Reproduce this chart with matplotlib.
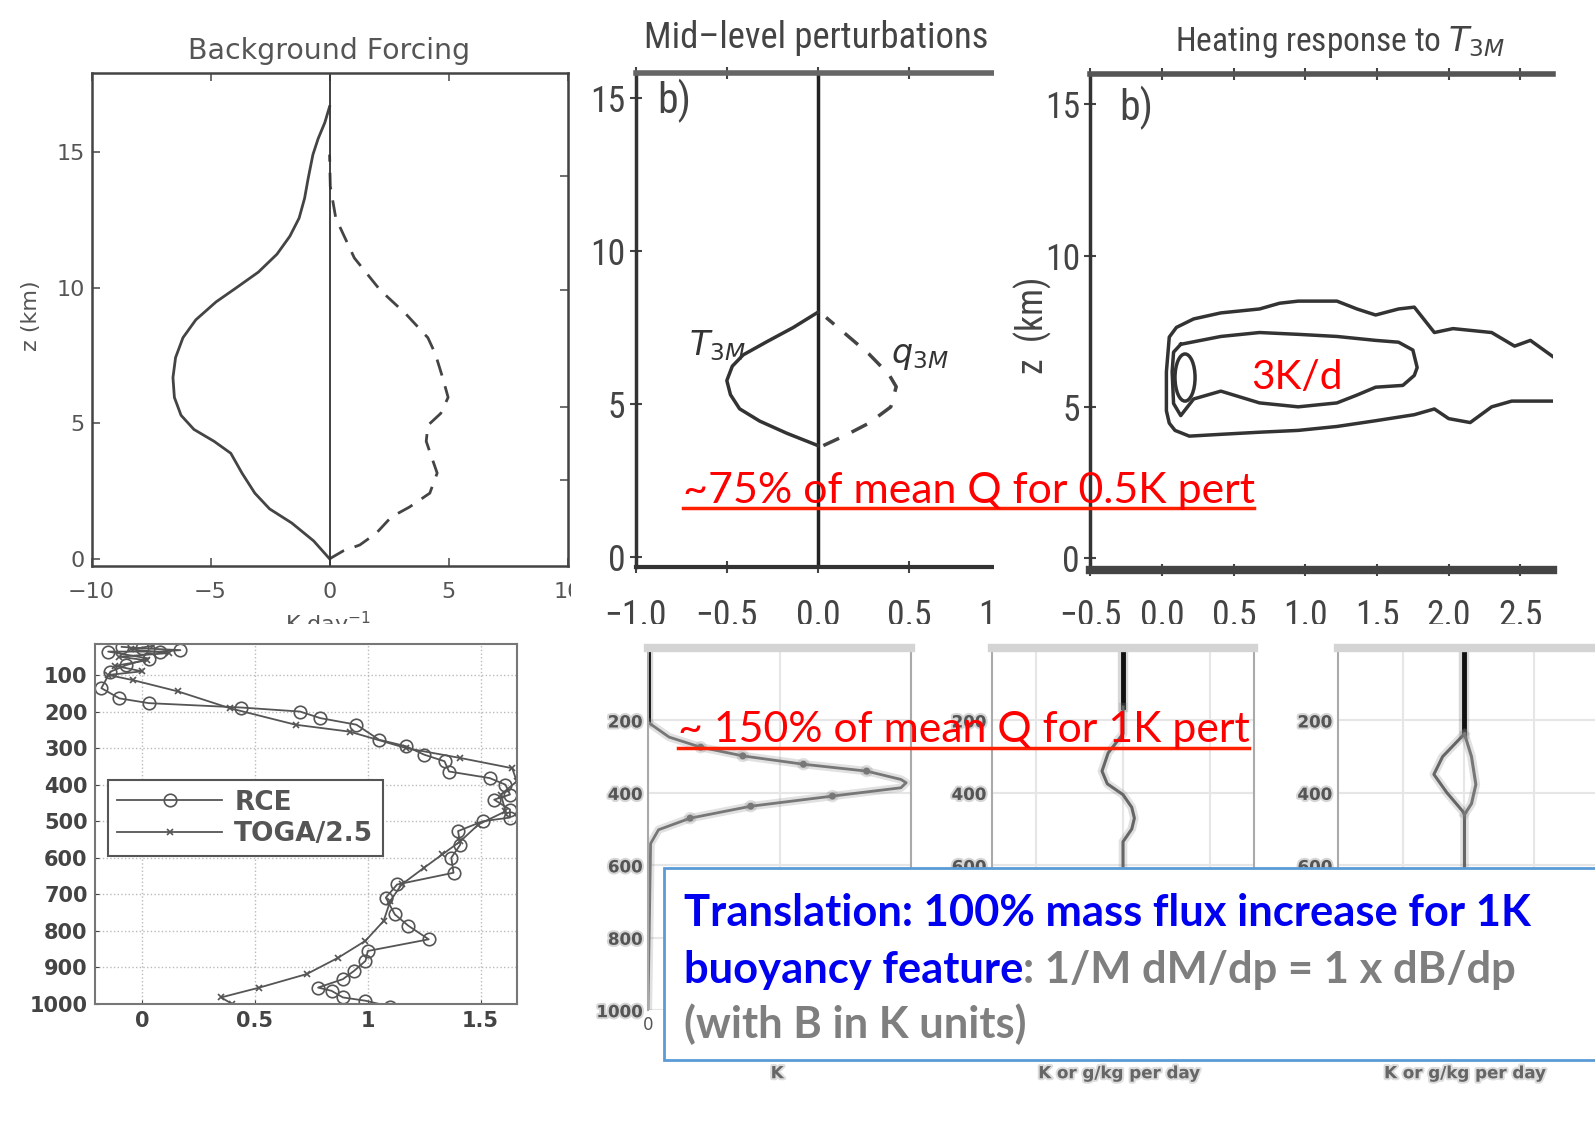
import matplotlib
matplotlib.use("Agg")
import matplotlib.pyplot as plt
import matplotlib.patheffects as pe
from matplotlib import font_manager as fm
from matplotlib.patches import Rectangle, Ellipse
from matplotlib.lines import Line2D

# ---------------------------------------------------------------- data
# Background forcing profiles (K/day vs height km)
bg_z_solid = [0, 0.66, 1.32, 1.84, 2.42, 3.16, 3.89, 4.33, 4.77, 5.29, 5.95, 6.68, 7.42, 8.15,
              8.81, 9.47, 9.99, 10.57, 11.23, 11.89, 12.56, 13.29, 14.02, 14.9, 15.49, 16.08,
              16.67]
bg_solid = [0, -0.67, -1.59, -2.52, -3.14, -3.68, -4.15, -4.85, -5.70, -6.24, -6.52, -6.58,
            -6.47, -6.16, -5.62, -4.77, -3.92, -2.99, -2.21, -1.67, -1.28, -1.05, -0.90, -0.70,
            -0.48, -0.2, 0]
bg_z_dash = [0, 0.29, 0.51, 0.95, 1.54, 1.91, 2.42, 3.16, 3.74, 4.33, 4.92, 5.36, 5.95, 6.68,
             7.56, 8.15, 9.03, 9.91, 11.09, 12.56, 13.73, 14.9]
bg_dash = [0, 0.57, 1.27, 1.97, 2.59, 3.36, 4.21, 4.52, 4.29, 4.06, 4.13, 4.67, 4.98, 4.75,
           4.44, 4.13, 3.20, 2.12, 1.04, 0.26, 0.03, 0]
bg_right_ticks = [2.9, 5.6, 9.9, 14.1]

# Mid-level perturbations
t3m_z = [3.65, 4.05, 4.45, 4.85, 5.31, 5.77, 6.24, 6.61, 7.04, 7.5, 8.0]
t3m_x = [0, -0.17, -0.32, -0.43, -0.48, -0.5, -0.47, -0.41, -0.28, -0.136, 0]
q3m_z = [3.65, 3.98, 4.38, 4.91, 5.57, 5.97, 6.64, 7.3, 7.83]
q3m_x = [0.03, 0.15, 0.28, 0.40, 0.43, 0.39, 0.28, 0.15, 0.045]

# Heating response contours (x: time-like axis, z: km)
outer_x = [2.80, 2.74, 2.57, 2.46, 2.30, 2.03, 1.90, 1.76, 1.65, 1.49, 1.36, 1.22, 0.95, 0.82,
           0.68, 0.41, 0.22, 0.10, 0.05, 0.03, 0.03, 0.05, 0.09, 0.19, 0.41, 0.68, 0.95, 1.22,
           1.49, 1.76, 1.90, 2.00, 2.15, 2.30, 2.44, 2.80]
outer_z = [6.45, 6.61, 7.19, 7.00, 7.45, 7.58, 7.45, 8.29, 8.23, 8.03, 8.23, 8.49, 8.49, 8.42,
           8.23, 8.10, 7.90, 7.62, 7.30, 6.15, 4.86, 4.45, 4.21, 4.02, 4.08, 4.15, 4.21, 4.34,
           4.53, 4.73, 4.92, 4.60, 4.47, 4.99, 5.18, 5.18]
mid_x = [0.13, 0.41, 0.68, 0.95, 1.22, 1.49, 1.65, 1.75, 1.78, 1.76, 1.68, 1.49, 1.36, 1.22,
         0.95, 0.68, 0.41, 0.22, 0.13, 0.08, 0.07, 0.08, 0.13]
mid_z = [7.06, 7.32, 7.45, 7.39, 7.32, 7.19, 7.13, 6.87, 6.29, 6.03, 5.70, 5.64, 5.38, 5.12,
         4.99, 5.12, 5.51, 5.25, 4.70, 5.10, 6.15, 6.80, 7.06]
inner_center = (0.16, 5.96)
inner_size = (0.14, 1.56)

# Convective heating (K/day) vs pressure (hPa)
rce_p = [23, 27, 32, 36, 36, 55, 73, 91, 136, 164, 177, 189, 200, 218, 236, 277, 295, 318, 336,
         364, 382, 400, 427, 441, 468, 490, 500, 527, 564, 600, 641, 673, 709, 755, 786, 823,
         855, 882, 909, 932, 955, 964, 982, 991, 1007]
rce_x = [-0.09, 0.0, 0.17, 0.08, -0.15, 0.03, -0.07, -0.14, -0.18, -0.1, 0.03, 0.44, 0.7, 0.79,
         0.95, 1.05, 1.17, 1.25, 1.34, 1.36, 1.54, 1.61, 1.63, 1.56, 1.63, 1.63, 1.51, 1.4, 1.41,
         1.37, 1.38, 1.13, 1.08, 1.12, 1.18, 1.27, 1.0, 0.99, 0.94, 0.89, 0.78, 0.84, 0.89, 0.99,
         1.1]
toga_p = [20, 30, 40, 50, 60, 75, 90, 100, 114, 145, 191, 236, 255, 300, 327, 355, 391, 427, 473,
          509, 555, 591, 627, 673, 718, 773, 827, 873, 918, 955, 982, 1000]
toga_x = [0.05, -0.05, 0.12, -0.1, 0.02, -0.12, 0.0, -0.15, -0.04, 0.16, 0.39, 0.68, 0.92, 1.17,
          1.41, 1.64, 1.66, 1.59, 1.61, 1.49, 1.41, 1.33, 1.25, 1.15, 1.1, 1.07, 0.99, 0.87, 0.73,
          0.52, 0.35, 0.4]
pressure_ticks = [100, 200, 300, 400, 500, 600, 700, 800, 900, 1000]
heating_ticks = [0, 0.5, 1, 1.5]

# Temperature-perturbation profile (K vs hPa)
k_p = [205, 246, 274, 298, 321, 340, 363, 372, 386, 409, 437, 470, 502, 540, 1000]
k_x = [0, 0.08, 0.2, 0.36, 0.59, 0.83, 0.96, 0.98, 0.96, 0.7, 0.39, 0.16, 0.04, 0.01, 0]
k_marks = [2, 3, 4, 5, 9, 10, 11]
# Heating-response profiles (K or g/kg per day vs hPa)
h1_p = [163, 237, 290, 340, 375, 405, 440, 470, 500, 535, 1000]
h1_x = [0, 0, -0.17, -0.24, -0.18, 0, 0.1, 0.13, 0.1, 0, 0]
h2a_p = [237, 300, 349, 400, 451, 460, 1000]
h2a_x = [0, -0.25, -0.35, -0.2, -0.02, 0, 0]
h2b_p = [237, 300, 377, 430, 460]
h2b_x = [0, 0.08, 0.13, 0.08, 0]
small_p_ticks = [200, 400, 600, 800, 1000]
small_p_labels = ["200", "400", "600", "800", "1000"]

# ---------------------------------------------------------------- layout helpers
W, H = 1568.0, 1102.0
SC = 1595.0 / 1568.0
fig = plt.figure(figsize=(15.95, 11.21), dpi=100)
renderer = fig.canvas.get_renderer()
CAL = ["Lato", "DejaVu Sans"]


def pick_narrow():
    options = [("Liberation Sans Narrow", "normal"), ("Roboto Condensed", "normal"),
               ("DejaVu Sans", "condensed"), ("Noto Sans", "condensed"),
               ("Open Sans", "condensed"), ("Roboto", "condensed")]
    for fam, st in options:
        try:
            path = fm.findfont(fm.FontProperties(family=fam, stretch=st),
                               fallback_to_default=False)
        except Exception:
            continue
        if any(k in path for k in ("Narrow", "Condensed", "Cond")):
            return fam, st
    return "Liberation Sans", "normal"


NFAM, NSTRETCH = pick_narrow()


def narrow(t):
    t.set_family(NFAM)
    t.set_stretch(NSTRETCH)
    return t


def fx(x):
    return x / W


def fy(y):
    return 1 - y / H


def box(x0, y0, x1, y1):
    return [x0 / W, 1 - y1 / H, (x1 - x0) / W, (y1 - y0) / H]


def white(x0, y0, x1, y1, z):
    fig.add_artist(Rectangle((fx(x0), fy(y1)), (x1 - x0) / W, (y1 - y0) / H,
                             transform=fig.transFigure, facecolor="white",
                             edgecolor="none", zorder=z))


def fit(t, width):
    w = t.get_window_extent(renderer).width
    t.set_fontsize(t.get_fontsize() * width * SC / w)
    return t


def hline(x0, x1, y, color, lw, z):
    fig.add_artist(Line2D([fx(x0), fx(x1)], [fy(y), fy(y)], transform=fig.transFigure,
                          color=color, lw=lw, zorder=z))


def soft(lw, color="#888", a=0.25):
    return [pe.Stroke(linewidth=lw + 4, foreground=color, alpha=a), pe.Normal()]


# size of the narrow tick labels: "0.0" about 44 px wide, at most 27 pt
_probe = narrow(fig.text(0, 0, "0.0", fontsize=20))
NSIZE = min(27.0, 20 * 44 * SC / _probe.get_window_extent(renderer).width)
_probe.remove()

# ---------------------------------------------------------------- Background forcing
ax1 = fig.add_axes(box(90, 72, 558, 556), zorder=0)
ax1.plot(bg_solid, bg_z_solid, color="#444", lw=2)
ax1.plot(bg_dash, bg_z_dash, color="#444", lw=2, dashes=(6, 4))
ax1.axvline(0, color="#333", lw=1.3)
ax1.set_xlim(-10, 10)
ax1.set_ylim(-0.25, 17.9)
ax1.set_xticks([-10, -5, 0, 5, 10])
ax1.set_xticklabels(["\u221210", "\u22125", "0", "5", "10"])
ax1.set_yticks([0, 5, 10, 15])
ax1.tick_params(direction="in", length=6, width=1.2, colors="#555", labelsize=16, top=True)
ax1.tick_params(axis="x", pad=12)
ax1.tick_params(axis="y", pad=5)
for s in ax1.spines.values():
    s.set_color("#444")
    s.set_linewidth(1.8)
sec = ax1.secondary_yaxis("right")
sec.set_yticks(bg_right_ticks)
sec.set_yticklabels([])
sec.tick_params(direction="in", length=6, width=1.2, colors="#555")
fit(fig.text(fx(185), fy(58), "Background Forcing", color="#555", fontsize=18,
             va="baseline"), 278)
fig.text(fx(30), fy(310), "z (km)", rotation=90, ha="center", va="center",
         fontsize=16, color="#555")
fig.text(fx(323), fy(599), "K day$^{-1}$", ha="center", va="top", fontsize=16, color="#555")

white(561, 0, 1568, 613, 1)

# ---------------------------------------------------------------- Mid-level perturbations
ax2 = fig.add_axes(box(625, 72, 1001, 557), zorder=2)
ax2.axvline(0, color="#222", lw=2.5)
ax2.plot(t3m_x, t3m_z, color="#333", lw=2.5)
ax2.plot(q3m_x, q3m_z, color="#444", lw=2.5, dashes=(5, 4))
ax2.set_xlim(-1.0, 1.1)
ax2.set_ylim(-0.3, 15.8)
ax2.set_xticks([-1.0, -0.5, 0.0, 0.5, 1.0])
ax2.set_xticklabels(["\u22121.0", "\u22120.5", "0.0", "0.5", "1.0"])
ax2.set_yticks([0, 5, 10, 15])
ax2.tick_params(direction="inout", length=9, width=1.5, colors="#444", labelsize=NSIZE,
                top=True)
ax2.tick_params(axis="x", pad=18)
ax2.tick_params(axis="y", pad=3)
for lab in ax2.get_xticklabels() + ax2.get_yticklabels():
    narrow(lab)
ax2.spines["right"].set_visible(False)
ax2.spines["top"].set_linewidth(4)
ax2.spines["top"].set_color("#666")
ax2.spines["bottom"].set_linewidth(3)
ax2.spines["bottom"].set_color("#333")
ax2.spines["left"].set_linewidth(2.5)
ax2.spines["left"].set_color("#333")
ax2.text(-0.55, 6.9, "$T_{3M}$", fontsize=24, color="#333", ha="center", va="center")
ax2.text(0.56, 6.6, "$q_{3M}$", fontsize=24, color="#333", ha="center", va="center")
narrow(ax2.text(-0.88, 14.9, "b)", fontsize=30, color="#444", va="center"))
fit(narrow(fig.text(fx(633), fy(47), "Mid\u2013level perturbations", color="#444",
                    fontsize=26, va="baseline")), 339)

white(977, 0, 1568, 613, 3)

# ---------------------------------------------------------------- Heating response
ax3 = fig.add_axes(box(1072, 73, 1527, 560), zorder=4)
ax3.plot(outer_x, outer_z, color="#333", lw=2.5)
ax3.plot(mid_x, mid_z, color="#333", lw=2.5)
ax3.add_patch(Ellipse(inner_center, inner_size[0], inner_size[1], fill=False,
                      edgecolor="#333", lw=2.5))
ax3.set_xlim(-0.5, 2.73)
ax3.set_ylim(-0.4, 16.0)
ax3.set_xticks([-0.5, 0.0, 0.5, 1.0, 1.5, 2.0, 2.5])
ax3.set_xticklabels(["\u22120.5", "0.0", "0.5", "1.0", "1.5", "2.0", "2.5"])
ax3.set_yticks([0, 5, 10, 15])
ax3.tick_params(direction="inout", length=9, width=1.5, colors="#444", labelsize=NSIZE,
                top=True)
ax3.tick_params(axis="x", pad=16)
ax3.tick_params(axis="y", pad=3)
for lab in ax3.get_xticklabels() + ax3.get_yticklabels():
    narrow(lab)
ax3.spines["right"].set_visible(False)
ax3.spines["top"].set_linewidth(4)
ax3.spines["top"].set_color("#555")
ax3.spines["bottom"].set_linewidth(6)
ax3.spines["bottom"].set_color("#444")
ax3.spines["left"].set_linewidth(2.5)
ax3.spines["left"].set_color("#333")
narrow(ax3.text(-0.3, 14.9, "b)", fontsize=30, color="#444", va="center"))
narrow(fig.text(fx(1015), fy(320), "z  (km)", rotation=90, ha="center", va="center",
                fontsize=NSIZE, color="#444"))
fit(narrow(fig.text(fx(1155), fy(50), "Heating response to $T_{3M}$", color="#444",
                    fontsize=26, va="baseline")), 325)

# ---------------------------------------------------------------- lower half
white(0, 613, 1568, 1102, 5)

ax4 = fig.add_axes(box(93, 633, 508, 987), zorder=6)
ax4.plot(rce_x, rce_p, color="#555", lw=1.3, marker="o", mfc="none", ms=9, mew=1.2,
         label="RCE")
ax4.plot(toga_x, toga_p, color="#555", lw=1.3, marker="x", ms=5, mew=1.2, label="TOGA/2.5")
ax4.set_ylim(1000, 15)
ax4.set_xlim(-0.21, 1.66)
ax4.set_yticks(pressure_ticks)
ax4.set_xticks(heating_ticks)
ax4.set_xticklabels(["0", "0.5", "1", "1.5"])
ax4.grid(True, color="#bbb", ls=":", lw=1)
ax4.tick_params(direction="in", length=3, colors="#444", labelsize=15, pad=5)
for lab in ax4.get_xticklabels() + ax4.get_yticklabels():
    lab.set_fontweight("bold")
for s in ax4.spines.values():
    s.set_color("#777")
    s.set_linewidth(1.5)
leg = ax4.legend(loc="upper left", bbox_to_anchor=(0.031, 0.621), borderaxespad=0,
                 handlelength=4.0, handletextpad=0.45, borderpad=0.35, labelspacing=0.2,
                 fancybox=False, edgecolor="#555", framealpha=1,
                 prop={"weight": "bold", "size": 19})
leg.get_frame().set_linewidth(1.5)
for t in leg.get_texts():
    t.set_color("#555")
fit(fig.text(fx(115), fy(1034), "Convective heating (K/day)", color="#555", fontsize=15,
             fontweight="bold", va="baseline"), 365)

# perturbation profile panels
ax5 = fig.add_axes(box(637, 637, 896, 993), zorder=6)
ax6 = fig.add_axes(box(975, 637, 1233, 993), zorder=6)
ax7 = fig.add_axes(box(1315, 637, 1573, 993), zorder=6)
for ax in (ax5, ax6, ax7):
    ax.set_ylim(1000, 0)
    ax.set_yticks(small_p_ticks)
    ax.grid(True, color="#e6e6e6", lw=1.5)
    ax.tick_params(length=0, colors="#555", labelsize=12, pad=4)
    ax.spines["top"].set_linewidth(6)
    ax.spines["top"].set_color("#d4d4d4")
    ax.spines["right"].set_color("#aaa")
    ax.spines["right"].set_linewidth(1.5)
    ax.spines["left"].set_color("#aaa")
    ax.spines["left"].set_linewidth(1.5)
    ax.spines["bottom"].set_visible(False)
ax5.set_yticklabels(small_p_labels)
# the lower labels of the two right panels sit under the text box
ax6.set_yticklabels(small_p_labels[:3] + ["", ""])
ax7.set_yticklabels(small_p_labels[:3] + ["", ""])
for ax in (ax5, ax6, ax7):
    for lab in ax.get_yticklabels():
        lab.set_fontweight("bold")
        lab.set_path_effects([pe.Stroke(linewidth=3, foreground="#999", alpha=0.4), pe.Normal()])

ax5.set_xlim(0, 1.0)
ax5.set_xticks([0, 0.5, 1.0])
ax5.set_xticklabels(["0", "", ""])
ax5.plot([0, 0], [0, k_p[0]], color="#111", lw=3.5, path_effects=soft(3.5, "#666"))
ax5.plot(k_x, k_p, color="#777", lw=2, path_effects=soft(2))
ax5.plot([k_x[i] for i in k_marks], [k_p[i] for i in k_marks], ls="none", marker="o", ms=4,
         color="#777", path_effects=soft(1))

ax6.set_xlim(-1.5, 1.5)
ax6.set_xticks([-1, 0, 1])
ax6.set_xticklabels([])
ax6.plot([0, 0], [0, h1_p[0]], color="#111", lw=3.5, path_effects=soft(3.5, "#666"))
ax6.plot(h1_x, h1_p, color="#666", lw=2.2, path_effects=soft(2.2))

ax7.set_xlim(-1.45, 1.55)
ax7.set_xticks([-0.7, 0, 0.8])
ax7.set_xticklabels([])
ax7.plot([0, 0], [0, h2a_p[0]], color="#111", lw=3.5, path_effects=soft(3.5, "#666"))
ax7.plot(h2a_x, h2a_p, color="#666", lw=2.2, path_effects=soft(2.2))
ax7.plot(h2b_x, h2b_p, color="#777", lw=2.2, path_effects=soft(2.2))

blur_txt = [pe.Stroke(linewidth=3, foreground="#aaa", alpha=0.4), pe.Normal()]
fig.text(fx(764), fy(1055), "K", ha="center", va="center", fontsize=12, fontweight="bold",
         color="#666", path_effects=blur_txt, zorder=7)
for xc in (1100, 1440):
    fig.text(fx(xc), fy(1055), "K or g/kg per day", ha="center", va="center", fontsize=12,
             fontweight="bold", color="#666", path_effects=blur_txt, zorder=7)

# ---------------------------------------------------------------- text box
fig.add_artist(Rectangle((fx(653), fy(1042)), (1580 - 653) / W, (1042 - 853) / H,
                         transform=fig.transFigure, facecolor="white", edgecolor="#5B9BD5",
                         lw=2, zorder=10))
BLUE = "#0000F0"
GRAY = "#7F7F7F"
l1 = fit(fig.text(fx(672), fy(910), "Translation: 100% mass flux increase for 1K", color=BLUE,
                  fontsize=30, fontweight="bold", family=CAL, va="baseline", zorder=11), 830)
fs = l1.get_fontsize()
l2a = fig.text(fx(672), fy(966), "buoyancy feature", color=BLUE, fontsize=fs,
               fontweight="bold", family=CAL, va="baseline", zorder=11)
w2a = l2a.get_window_extent(renderer).width
fig.text(fx(672) + w2a / (W * SC), fy(966), ": 1/M dM/dp = 1 x dB/dp", color=GRAY,
         fontsize=fs, fontweight="bold", family=CAL, va="baseline", zorder=11)
fig.text(fx(672), fy(1020), "(with B in K units)", color=GRAY, fontsize=fs,
         fontweight="bold", family=CAL, va="baseline", zorder=11)

# ---------------------------------------------------------------- red annotations
RED = "#FF0000"
fit(fig.text(fx(671), fy(494), "~75% of mean Q for 0.5K pert", color=RED, fontsize=30,
             family=CAL, va="baseline", zorder=20), 562)
hline(671, 1233, 499, "#FF2000", 2.5, 20)
fit(fig.text(fx(667), fy(729), "~ 150% of mean Q for 1K pert", color=RED, fontsize=30,
             family=CAL, va="baseline", zorder=20), 561)
hline(667, 1228, 735, "#FF2000", 2.5, 20)
fit(fig.text(fx(1230), fy(382), "3K/d", color=RED, fontsize=30, family=CAL, va="baseline",
             zorder=20), 90)

fig.savefig("out.png", dpi=100, facecolor="white")
